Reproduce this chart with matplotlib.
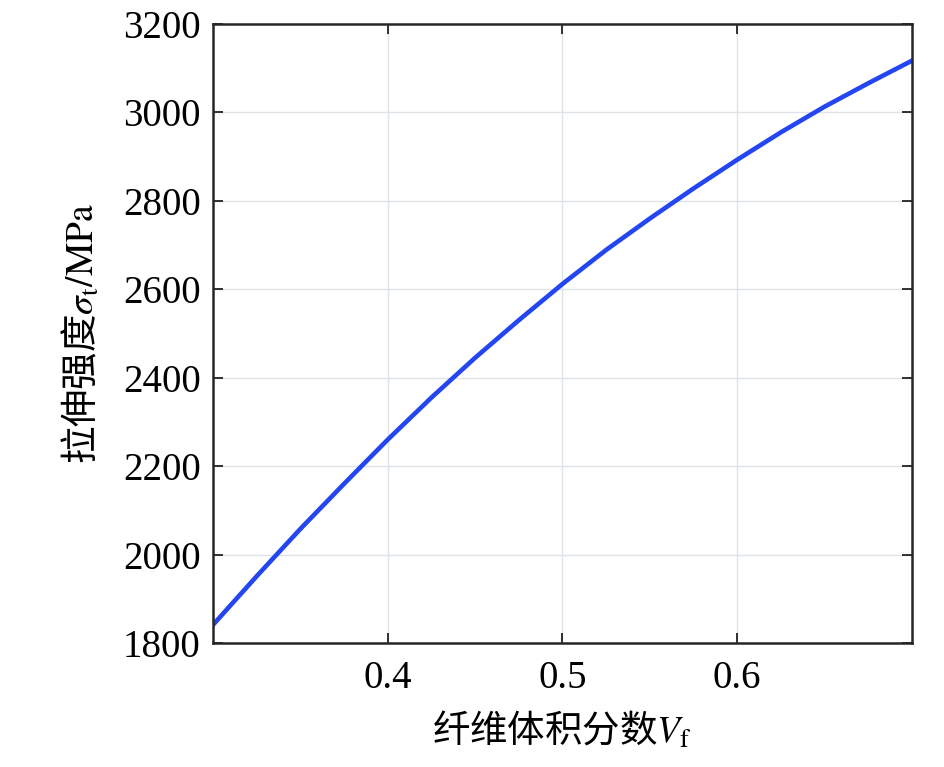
import matplotlib
matplotlib.use("Agg")
import matplotlib.pyplot as plt

# Data
vf = [0.300, 0.325, 0.350, 0.375, 0.400, 0.425, 0.450, 0.475, 0.500,
      0.525, 0.550, 0.575, 0.600, 0.625, 0.650, 0.675, 0.700]
sigma_t = [1841, 1951, 2058, 2160, 2260, 2355, 2445, 2530, 2612,
           2689, 2760, 2828, 2893, 2955, 3013, 3066, 3117]
xticks = [0.4, 0.5, 0.6]
yticks = [1800, 2000, 2200, 2400, 2600, 2800, 3000, 3200]

plt.rcParams['font.family'] = ['Liberation Serif', 'Noto Sans CJK SC']
plt.rcParams['mathtext.fontset'] = 'stix'

fig = plt.figure(figsize=(9.45, 7.67), dpi=100)
ax = fig.add_axes([0.2254, 0.1617, 0.7396, 0.807])

ax.plot(vf, sigma_t, color='#2346f0', lw=3.3)

ax.set_xlim(0.3, 0.7)
ax.set_ylim(1800, 3200)
ax.set_xticks(xticks)
ax.set_yticks(yticks)
ax.set_xticklabels([f"{t:.1f}" for t in xticks])
ax.grid(True, color='#dde3e6', lw=1.0)
ax.set_axisbelow(True)

ax.tick_params(direction='in', length=7, width=1.3, top=True, right=True,
               labelsize=28, colors='#222222', labelcolor='black')
ax.tick_params(axis='x', pad=12)
ax.tick_params(axis='y', pad=9)
for s in ax.spines.values():
    s.set_linewidth(1.8)
    s.set_color('#262626')

cjk = {'family': 'Noto Sans CJK SC', 'size': 27}
ax.set_xlabel('纤维体积分数$\\mathit{V}_{\\mathrm{f}}$', fontdict=cjk, labelpad=10)
ax.set_ylabel('拉伸强度$\\sigma_{\\mathrm{t}}/\\mathrm{MPa}$', fontdict=cjk, labelpad=14)

fig.savefig('out.png', dpi=100)
